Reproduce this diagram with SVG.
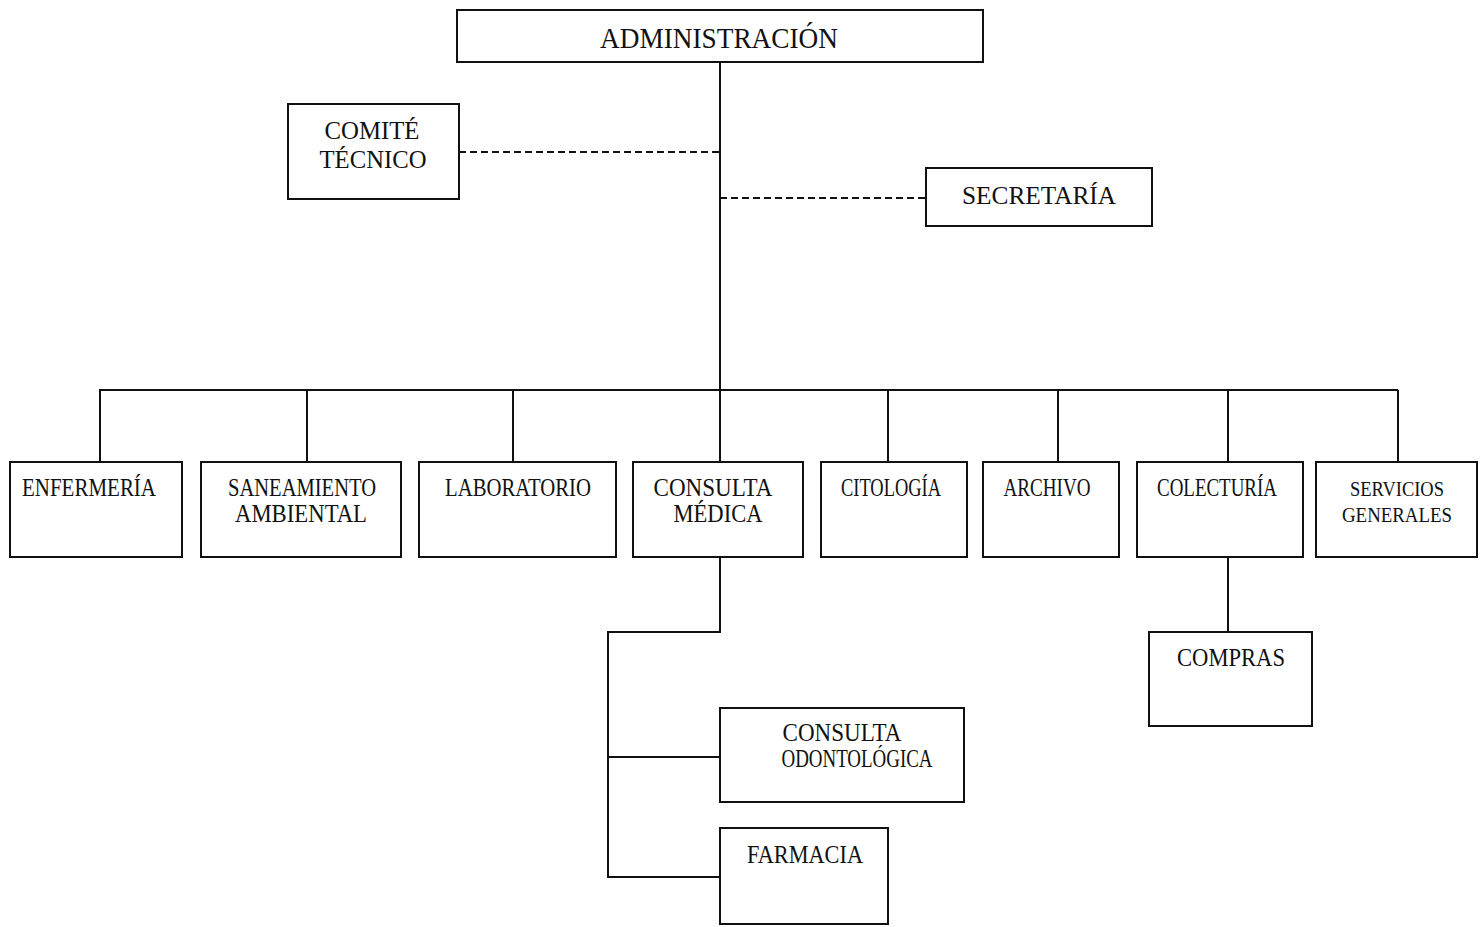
<svg xmlns="http://www.w3.org/2000/svg" width="1483" height="927" viewBox="0 0 1483 927">
<style>
rect{fill:#fff;stroke:#111;stroke-width:2}
.c line,.c polyline{stroke:#111;stroke-width:2;fill:none}
.c .d{stroke-dasharray:7 4}
text{font-family:"Liberation Serif","Times New Roman",serif;font-size:25px;fill:#111;text-anchor:middle}
.big{font-size:29px}
.sm{font-size:22px}
</style>
<rect x="0" y="0" width="1483" height="927" style="fill:#fff;stroke:none"/>
<g class="c" id="connectors">
<line x1="720" y1="62" x2="720" y2="390"/>
<line class="d" x1="459" y1="152" x2="720" y2="152"/>
<line class="d" x1="720" y1="198" x2="926" y2="198"/>
<line x1="99" y1="390" x2="1398" y2="390"/>
<line x1="100" y1="390" x2="100" y2="462"/>
<line x1="307" y1="390" x2="307" y2="462"/>
<line x1="513" y1="390" x2="513" y2="462"/>
<line x1="720" y1="390" x2="720" y2="462"/>
<line x1="888" y1="390" x2="888" y2="462"/>
<line x1="1058" y1="390" x2="1058" y2="462"/>
<line x1="1228" y1="390" x2="1228" y2="462"/>
<line x1="1398" y1="390" x2="1398" y2="462"/>
<polyline points="720,557 720,632 608,632 608,877 720,877"/>
<line x1="608" y1="757" x2="720" y2="757"/>
<line x1="1228" y1="557" x2="1228" y2="632"/>
</g>
<g id="administracion"><rect x="457" y="10" width="526" height="52"/><text class="big" x="719" y="48" textLength="238" lengthAdjust="spacingAndGlyphs">ADMINISTRACIÓN</text></g>
<g id="comite"><rect x="288" y="104" width="171" height="95"/><text x="372" y="139" textLength="95" lengthAdjust="spacingAndGlyphs">COMITÉ</text><text x="373" y="168" textLength="107" lengthAdjust="spacingAndGlyphs">TÉCNICO</text></g>
<g id="secretaria"><rect x="926" y="168" width="226" height="58"/><text x="1039" y="204" textLength="154" lengthAdjust="spacingAndGlyphs">SECRETARÍA</text></g>
<g id="enfermeria"><rect x="10" y="462" width="172" height="95"/><text x="89" y="496" textLength="134" lengthAdjust="spacingAndGlyphs">ENFERMERÍA</text></g>
<g id="saneamiento"><rect x="201" y="462" width="200" height="95"/><text x="302" y="496" textLength="148" lengthAdjust="spacingAndGlyphs">SANEAMIENTO</text><text x="301" y="522" textLength="132" lengthAdjust="spacingAndGlyphs">AMBIENTAL</text></g>
<g id="laboratorio"><rect x="419" y="462" width="197" height="95"/><text x="518" y="496" textLength="146" lengthAdjust="spacingAndGlyphs">LABORATORIO</text></g>
<g id="consulta-medica"><rect x="633" y="462" width="170" height="95"/><text x="713" y="496" textLength="119" lengthAdjust="spacingAndGlyphs">CONSULTA</text><text x="718" y="522" textLength="89" lengthAdjust="spacingAndGlyphs">MÉDICA</text></g>
<g id="citologia"><rect x="821" y="462" width="146" height="95"/><text x="891" y="496" textLength="100" lengthAdjust="spacingAndGlyphs">CITOLOGÍA</text></g>
<g id="archivo"><rect x="983" y="462" width="136" height="95"/><text x="1047" y="496" textLength="87" lengthAdjust="spacingAndGlyphs">ARCHIVO</text></g>
<g id="colecturia"><rect x="1137" y="462" width="166" height="95"/><text x="1217" y="496" textLength="120" lengthAdjust="spacingAndGlyphs">COLECTURÍA</text></g>
<g id="servicios"><rect x="1316" y="462" width="161" height="95"/><text class="sm" x="1397" y="496" textLength="94" lengthAdjust="spacingAndGlyphs">SERVICIOS</text><text class="sm" x="1397" y="522" textLength="110" lengthAdjust="spacingAndGlyphs">GENERALES</text></g>
<g id="compras"><rect x="1149" y="632" width="163" height="94"/><text x="1231" y="666" textLength="108" lengthAdjust="spacingAndGlyphs">COMPRAS</text></g>
<g id="odontologica"><rect x="720" y="708" width="244" height="94"/><text x="842" y="741" textLength="119" lengthAdjust="spacingAndGlyphs">CONSULTA</text><text x="857" y="767" textLength="151" lengthAdjust="spacingAndGlyphs">ODONTOLÓGICA</text></g>
<g id="farmacia"><rect x="720" y="828" width="168" height="96"/><text x="805" y="863" textLength="116" lengthAdjust="spacingAndGlyphs">FARMACIA</text></g>
</svg>
